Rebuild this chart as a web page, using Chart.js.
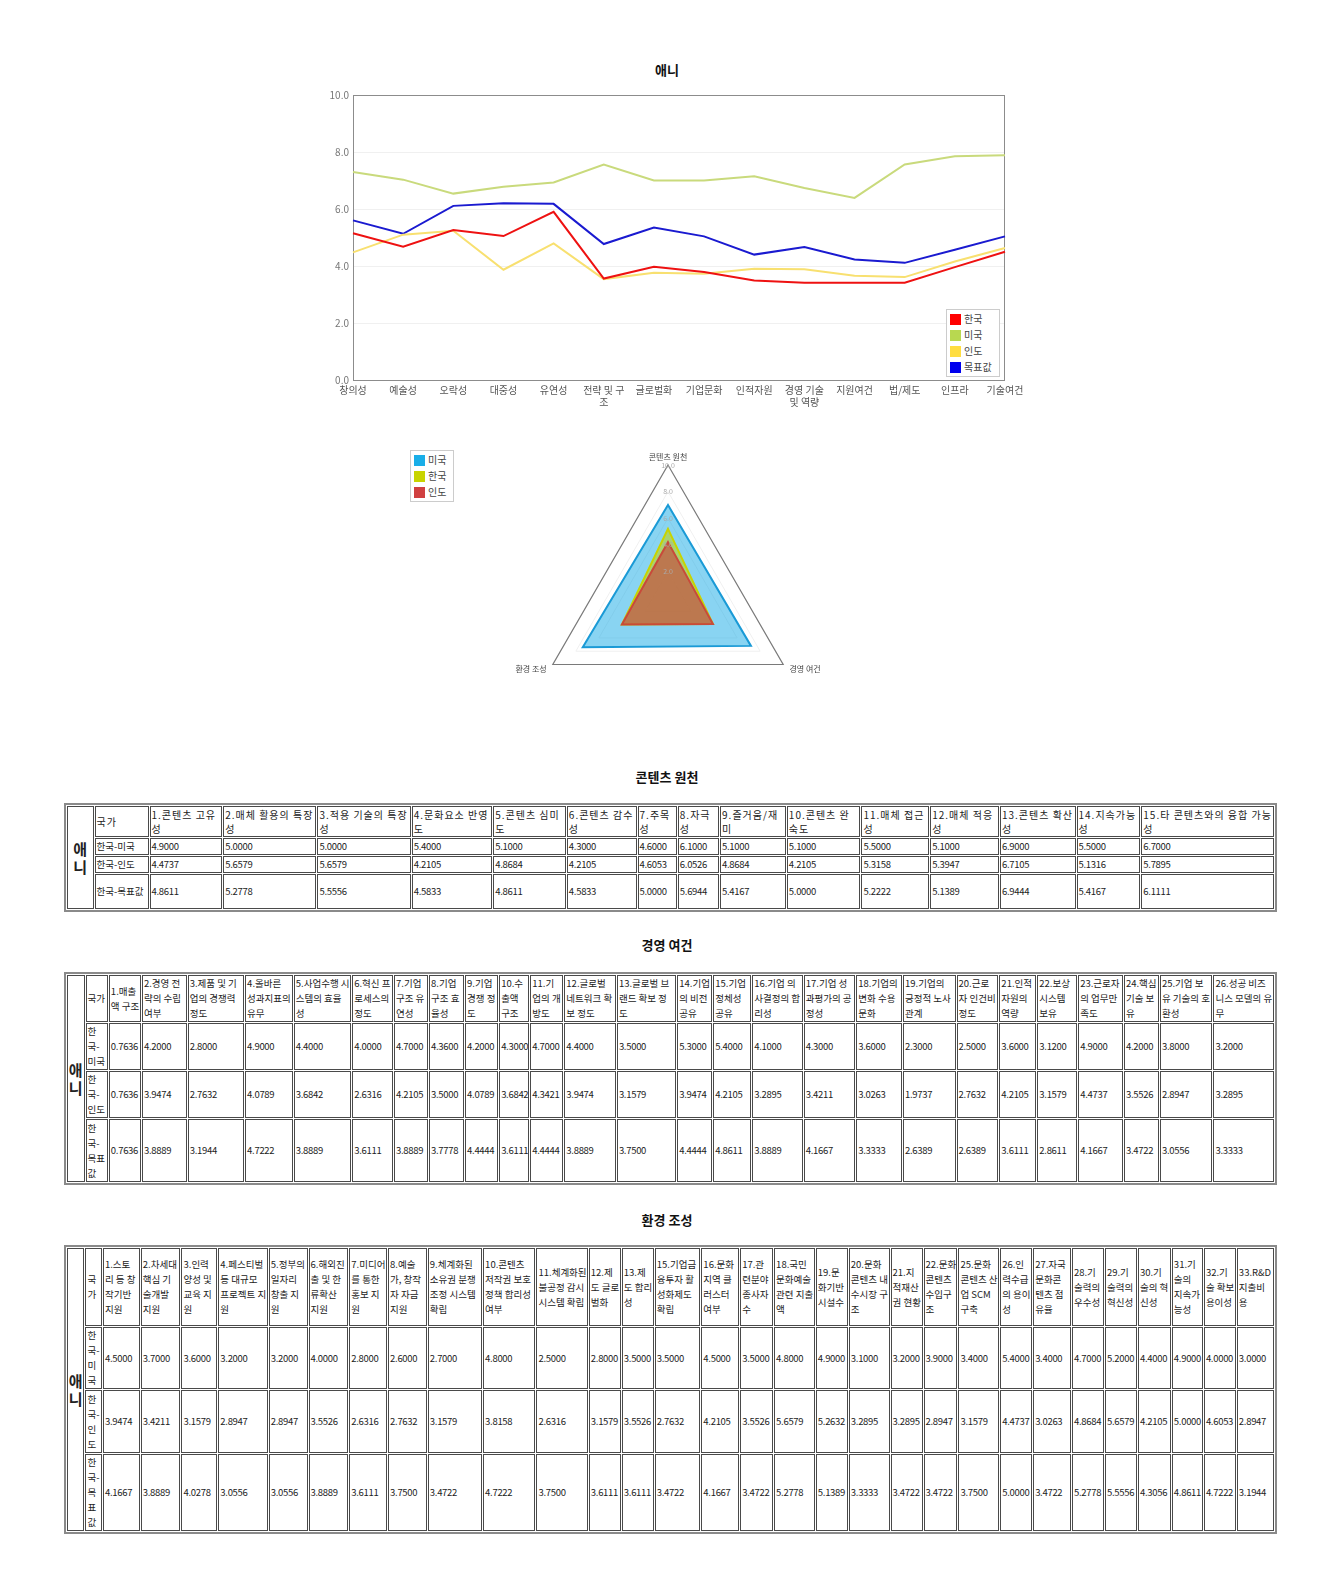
<!DOCTYPE html>
<html>
<head>
<meta charset="utf-8">
<script src="https://cdn.jsdelivr.net/npm/chart.js@4.4.1/dist/chart.umd.min.js"></script>
<style>
  html, body { margin: 0; padding: 0; background: #fff; }
  body { width: 1334px; height: 1584px; position: relative; font-family: 'Noto Sans CJK KR', 'Noto Sans', sans-serif; color: #222; }
  .title { position: absolute; left: 0; width: 1334px; text-align: center; font-weight: bold; font-size: 13px; line-height: 16px; color: #111; }
  .legend { position: absolute; border: 1px solid #ccc; background: #fff; font-size: 10px; line-height: 16px; color: #444; padding: 1px 3px 1px 3px; }
  .legend div { display: flex; align-items: center; white-space: nowrap; }
  .legend span.sw { display: inline-block; width: 11px; height: 11px; margin-right: 3px; }
  .plabel { position: absolute; font-size: 8px; color: #444; white-space: nowrap; transform: translate(-50%, -50%); }
  table.dt { position: absolute; left: 64px; width: 1213px; table-layout: fixed; border: 2px solid #8a8a8a; border-spacing: 1px; font-size: 9.5px; line-height: 15px; color: #222; }
  table.dt td { border: 1px solid #4a4a4a; padding: 0 0 0 1px; vertical-align: middle; overflow: hidden; word-break: break-all; }
  table.dt td.num { letter-spacing: -0.3px; white-space: nowrap; }
  table.dt td.cat { font-size: 15px; font-weight: bold; text-align: center; line-height: 18px; padding: 0; }
  #t1 tr.hd td { font-size: 10px; letter-spacing: 1px; line-height: 14px; }
  #t1 tr.hd td.cat { font-size: 15px; letter-spacing: 0; line-height: 18px; }
</style>
</head>
<body>

<div class="title" style="top:62px;">애니</div>
<div id="lineWrap" style="position:absolute; left:0; top:0; width:1334px; height:420px;"><canvas id="lineChart"></canvas></div>
<div class="legend" id="lineLegend" style="left:946px; top:309px; width:46px;"></div>

<div class="legend" id="radarLegend" style="left:410px; top:450px; width:36px;"></div>
<div id="radarWrap" style="position:absolute; left:518px; top:448px; width:300px; height:300px;"><canvas id="radarChart"></canvas></div>
<div id="radarLabels"></div>

<div class="title" style="top:769px;">콘텐츠 원천</div>
<table class="dt" id="t1" style="top:803px;"></table>
<div class="title" style="top:937px;">경영 여건</div>
<table class="dt" id="t2" style="top:972px;"></table>
<div class="title" style="top:1212px;">환경 조성</div>
<table class="dt" id="t3" style="top:1245px;"></table>

<script>
// ---------------- DATA ----------------
const categoryName = '애니';
const lineLabels = ['창의성','예술성','오락성','대중성','유연성',['전략 및 구','조'],'글로벌화','기업문화','인적자원',['경영 기술','및 역량'],'지원여건','법/제도','인프라','기술여건'];
const lineSeriesNames = ['한국','미국','인도','목표값'];
const koreaLine  = [5.15,4.68,5.26,5.05,5.90,3.56,3.97,3.79,3.49,3.41,3.41,3.41,3.96,4.50];
const usaLine    = [7.30,7.03,6.54,6.78,6.93,7.56,7.00,7.00,7.15,6.74,6.39,7.56,7.85,7.89];
const indiaLine  = [4.48,5.10,5.24,3.87,4.79,3.54,3.76,3.73,3.90,3.89,3.66,3.61,4.16,4.63];
const targetLine = [5.60,5.13,6.11,6.20,6.18,4.77,5.35,5.04,4.40,4.67,4.23,4.11,4.57,5.04];
const yTicks = [0,2,4,6,8,10];

const radarAxes = ['콘텐츠 원천','경영 여건','환경 조성'];
const radarSeriesNames = ['미국','한국','인도'];
const radarUSA   = [7.0,7.2,7.4];
const radarKorea = [5.2,3.9,4.0];
const radarIndia = [4.2,3.9,4.0];

const countryHeader = '국가';
const rowLabels = ['한국-미국','한국-인도','한국-목표값'];

const contentHeaders = ['1.콘텐츠 고유성','2.매체 활용의 특장성','3.적용 기술의 특장성','4.문화요소 반영도','5.콘텐츠 심미도','6.콘텐츠 감수성','7.주목성','8.자극성','9.즐거움/재미','10.콘텐츠 완숙도','11.매체 접근성','12.매체 적응성','13.콘텐츠 확산성','14.지속가능성','15.타 콘텐츠와의 융합 가능성'];
const contentUSA    = [4.9000,5.0000,5.0000,5.4000,5.1000,4.3000,4.6000,6.1000,5.1000,5.1000,5.5000,5.1000,6.9000,5.5000,6.7000];
const contentIndia  = [4.4737,5.6579,5.6579,4.2105,4.8684,4.2105,4.6053,6.0526,4.8684,4.2105,5.3158,5.3947,6.7105,5.1316,5.7895];
const contentTarget = [4.8611,5.2778,5.5556,4.5833,4.8611,4.5833,5.0000,5.6944,5.4167,5.0000,5.2222,5.1389,6.9444,5.4167,6.1111];

const mgmtHeaders = ['1.매출액 구조','2.경영 전략의 수립 여부','3.제품 및 기업의 경쟁력 정도','4.올바른 성과지표의 유무','5.사업수행 시스템의 효율성','6.혁신 프로세스의 정도','7.기업 구조 유연성','8.기업 구조 효율성','9.기업 경쟁 정도','10.수출액 구조','11.기업의 개방도','12.글로벌 네트워크 확보 정도','13.글로벌 브랜드 확보 정도','14.기업의 비전 공유','15.기업 정체성 공유','16.기업 의사결정의 합리성','17.기업 성과평가의 공정성','18.기업의 변화 수용 문화','19.기업의 긍정적 노사관계','20.근로자 인건비 정도','21.인적자원의 역량','22.보상 시스템 보유','23.근로자의 업무만족도','24.핵심 기술 보유','25.기업 보유 기술의 호환성','26.성공 비즈니스 모델의 유무'];
const mgmtUSA    = [0.7636,4.2000,2.8000,4.9000,4.4000,4.0000,4.7000,4.3600,4.2000,4.3000,4.7000,4.4000,3.5000,5.3000,5.4000,4.1000,4.3000,3.6000,2.3000,2.5000,3.6000,3.1200,4.9000,4.2000,3.8000,3.2000];
const mgmtIndia  = [0.7636,3.9474,2.7632,4.0789,3.6842,2.6316,4.2105,3.5000,4.0789,3.6842,4.3421,3.9474,3.1579,3.9474,4.2105,3.2895,3.4211,3.0263,1.9737,2.7632,4.2105,3.1579,4.4737,3.5526,2.8947,3.2895];
const mgmtTarget = [0.7636,3.8889,3.1944,4.7222,3.8889,3.6111,3.8889,3.7778,4.4444,3.6111,4.4444,3.8889,3.7500,4.4444,4.8611,3.8889,4.1667,3.3333,2.6389,2.6389,3.6111,2.8611,4.1667,3.4722,3.0556,3.3333];

const envHeaders = ['1.스토리 등 창작기반 지원','2.차세대 핵심 기술개발 지원','3.인력 양성 및 교육 지원','4.페스티벌 등 대규모 프로젝트 지원','5.정부의 일자리 창출 지원','6.해외진출 및 한류확산 지원','7.미디어를 통한 홍보 지원','8.예술가, 창작자 자금 지원','9.체계화된 소유권 분쟁 조정 시스템 확립','10.콘텐츠 저작권 보호정책 합리성 여부','11.체계화된 불공정 감시시스템 확립','12.제도 글로벌화','13.제도 합리성','15.기업금융투자 활성화제도 확립','16.문화지역 클러스터 여부','17.관련분야 종사자수','18.국민 문화예술 관련 지출액','19.문화기반 시설수','20.문화콘텐츠 내수시장 구조','21.지적재산권 현황','22.문화콘텐츠 수입구조','25.문화콘텐츠 산업 SCM 구축','26.인력수급의 용이성','27.자국 문화콘텐츠 점유율','28.기술력의 우수성','29.기술력의 혁신성','30.기술의 혁신성','31.기술의 지속가능성','32.기술 확보 용이성','33.R&D 지출비용'];
const envUSA    = [4.5000,3.7000,3.6000,3.2000,3.2000,4.0000,2.8000,2.6000,2.7000,4.8000,2.5000,2.8000,3.5000,3.5000,4.5000,3.5000,4.8000,4.9000,3.1000,3.2000,3.9000,3.4000,5.4000,3.4000,4.7000,5.2000,4.4000,4.9000,4.0000,3.0000];
const envIndia  = [3.9474,3.4211,3.1579,2.8947,2.8947,3.5526,2.6316,2.7632,3.1579,3.8158,2.6316,3.1579,3.5526,2.7632,4.2105,3.5526,5.6579,5.2632,3.2895,3.2895,2.8947,3.1579,4.4737,3.0263,4.8684,5.6579,4.2105,5.0000,4.6053,2.8947];
const envTarget = [4.1667,3.8889,4.0278,3.0556,3.0556,3.8889,3.6111,3.7500,3.4722,4.7222,3.7500,3.6111,3.6111,3.4722,4.1667,3.4722,5.2778,5.1389,3.3333,3.4722,3.4722,3.7500,5.0000,3.4722,5.2778,5.5556,4.3056,4.8611,4.7222,3.1944];

// ---------------- LAYOUT (not data) ----------------
const t1Widths = [27,55,74,95,95,82,74,71,40,42,67,75,69,70,77,65,135];
const t2Widths = [18,23,33,46,58,49,59,42,35,36,34,31,34,53,61,36,39,52,53,47,54,43,38,41,46,36,54,62];
const t3Widths = [18,17,38,41,37,51,40,41,39,40,56,54,53,33,33,47,39,34,42,33,42,33,35,42,33,39,33,33,34,32,33,38];
const t1Rows = [31,17,17,35];
const t2Rows = [47,47,47,63];
const t3Rows = [78,62,63,77];

const lineColors = { '한국':'#ee1111', '미국':'#c9da7c', '인도':'#f8e070', '목표값':'#1a1ad0' };
const lineSwatch = { '한국':'#ff0000', '미국':'#b8d850', '인도':'#ffdd40', '목표값':'#0000ee' };
const radarBorder = { '미국':'#1a9ad6', '한국':'#c8d400', '인도':'#c84a3a' };
const radarFill = { '미국':'rgba(20,170,230,0.5)', '한국':'rgba(200,212,0,0.55)', '인도':'rgba(200,60,60,0.6)' };
const radarSwatch = { '미국':'#19aee8', '한국':'#c8d400', '인도':'#d04040' };

Chart.defaults.font.family = "'Noto Sans CJK KR', 'Noto Sans', sans-serif";

// ---------------- LINE CHART ----------------
const frame = {
  id: 'frame',
  beforeDatasetsDraw(chart) {
    const a = chart.chartArea, c = chart.ctx;
    c.save(); c.strokeStyle = '#8c8c8c'; c.lineWidth = 1;
    c.strokeRect(a.left + 0.5, a.top + 0.5, a.right - a.left - 1, a.bottom - a.top);
    c.restore();
  }
};
const lineSeries = [koreaLine, usaLine, indiaLine, targetLine];
new Chart(document.getElementById('lineChart'), {
  type: 'line',
  data: {
    labels: lineLabels,
    datasets: lineSeriesNames.map((n, i) => ({
      label: n, data: lineSeries[i], borderColor: lineColors[n], backgroundColor: lineColors[n],
      borderWidth: 2, pointRadius: 0, tension: 0, fill: false
    }))
  },
  options: {
    responsive: true, maintainAspectRatio: false, animation: false,
    layout: { padding: { left: 318, right: 329, top: 95, bottom: 5 } },
    plugins: { legend: { display: false }, tooltip: { enabled: false } },
    scales: {
      x: {
        grid: { display: false, drawTicks: false }, border: { display: false },
        ticks: { autoSkip: false, maxRotation: 0, minRotation: 0, color: '#555', font: { size: 10 }, padding: 4 },
        afterFit(s) { s.height = 35; }
      },
      y: {
        min: 0, max: 10,
        afterBuildTicks(s) { s.ticks = yTicks.map(v => ({ value: v })); },
        grid: { color: '#f0f0f0', drawTicks: false }, border: { display: false },
        ticks: { color: '#777', font: { size: 10 }, padding: 4, callback: v => Number(v).toFixed(1) },
        afterFit(s) { s.width = 35; }
      }
    }
  },
  plugins: [frame]
});

const ll = document.getElementById('lineLegend');
lineSeriesNames.forEach(n => {
  const d = document.createElement('div');
  d.innerHTML = '<span class="sw" style="background:' + lineSwatch[n] + '"></span>' + n;
  ll.appendChild(d);
});

// ---------------- RADAR CHART ----------------
const radarSeries = [radarUSA, radarKorea, radarIndia];
new Chart(document.getElementById('radarChart'), {
  type: 'radar',
  data: {
    labels: radarAxes,
    datasets: radarSeriesNames.map((n, i) => ({
      label: n, data: radarSeries[i], borderColor: radarBorder[n], backgroundColor: radarFill[n],
      borderWidth: 2, pointRadius: 0, fill: true, order: radarSeriesNames.length - i
    }))
  },
  options: {
    responsive: true, maintainAspectRatio: false, animation: false,
    layout: { padding: 0 },
    plugins: { legend: { display: false }, tooltip: { enabled: false } },
    scales: {
      r: {
        min: 0, max: 10,
        afterFit(s) { s.xCenter = 150; s.yCenter = 150; s.drawingArea = 133; },
        ticks: { stepSize: 2, showLabelBackdrop: false, color: '#aaa', font: { size: 7 }, callback: v => Number(v).toFixed(1), z: 1 },
        pointLabels: { display: false },
        angleLines: { display: false },
        grid: { color: ctx => (ctx.tick && ctx.tick.value === 10) ? '#7a7a7a' : '#f0f0f0', lineWidth: ctx => (ctx.tick && ctx.tick.value === 10) ? 1.2 : 1 }
      }
    }
  }
});

const rl = document.getElementById('radarLegend');
radarSeriesNames.forEach(n => {
  const d = document.createElement('div');
  d.innerHTML = '<span class="sw" style="background:' + radarSwatch[n] + '"></span>' + n;
  rl.appendChild(d);
});
const labelPos = [[668, 456], [805, 668], [531, 668]];
const rlab = document.getElementById('radarLabels');
radarAxes.forEach((t, i) => {
  const d = document.createElement('div');
  d.className = 'plabel';
  d.style.left = labelPos[i][0] + 'px';
  d.style.top = labelPos[i][1] + 'px';
  d.textContent = t;
  rlab.appendChild(d);
});

// ---------------- TABLES ----------------
function buildTable(id, headers, series, widths, rowHeights) {
  const t = document.getElementById(id);
  const total = widths.reduce((a, b) => a + b, 0);
  const cg = document.createElement('colgroup');
  widths.forEach(w => { const c = document.createElement('col'); c.style.width = (w / total * 100) + '%'; cg.appendChild(c); });
  t.appendChild(cg);
  const tb = document.createElement('tbody');
  const hr = document.createElement('tr');
  hr.className = 'hd';
  hr.style.height = rowHeights[0] + 'px';
  const cat = document.createElement('td');
  cat.className = 'cat'; cat.rowSpan = 1 + series.length; cat.textContent = categoryName;
  hr.appendChild(cat);
  [countryHeader].concat(headers).forEach(h => { const td = document.createElement('td'); td.textContent = h; hr.appendChild(td); });
  tb.appendChild(hr);
  series.forEach((vals, r) => {
    const tr = document.createElement('tr');
    tr.style.height = rowHeights[r + 1] + 'px';
    const lab = document.createElement('td'); lab.textContent = rowLabels[r]; tr.appendChild(lab);
    vals.forEach(v => { const td = document.createElement('td'); td.className = 'num'; td.textContent = v.toFixed(4); tr.appendChild(td); });
    tb.appendChild(tr);
  });
  t.appendChild(tb);
}
buildTable('t1', contentHeaders, [contentUSA, contentIndia, contentTarget], t1Widths, t1Rows);
buildTable('t2', mgmtHeaders, [mgmtUSA, mgmtIndia, mgmtTarget], t2Widths, t2Rows);
buildTable('t3', envHeaders, [envUSA, envIndia, envTarget], t3Widths, t3Rows);
</script>
</body>
</html>
